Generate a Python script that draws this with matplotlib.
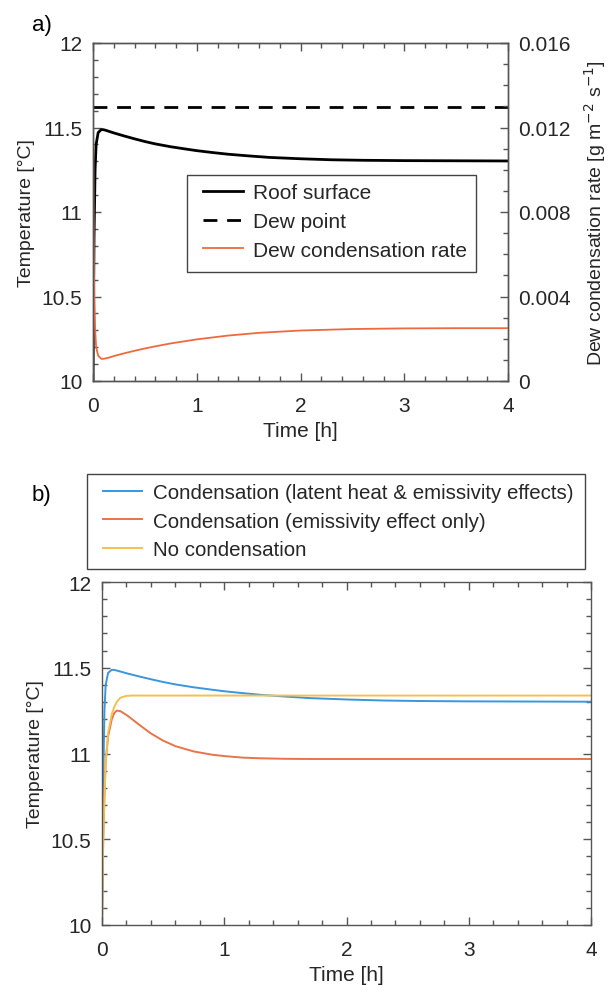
import matplotlib
matplotlib.use("Agg")
import matplotlib.pyplot as plt
from matplotlib.patches import Rectangle
from matplotlib.ticker import MultipleLocator

plt.rcParams['font.family'] = ['Liberation Sans', 'DejaVu Sans']

# Time axis [h]
time_h = [0, 0.01, 0.02, 0.03, 0.05, 0.08, 0.1, 0.12, 0.15, 0.2, 0.25, 0.3,
          0.4, 0.5, 0.6, 0.75, 0.9, 1.0, 1.15, 1.3, 1.5, 1.7, 2.0, 2.3, 2.6,
          3.0, 3.5, 4.0]

# Roof surface temperature with condensation (latent heat & emissivity) [°C]
roof_temp = [10.0, 10.85, 11.25, 11.40, 11.47, 11.488, 11.487, 11.484, 11.478,
             11.468, 11.459, 11.450, 11.433, 11.417, 11.403, 11.386, 11.372,
             11.363, 11.352, 11.342, 11.332, 11.323, 11.315, 11.309, 11.306,
             11.304, 11.303, 11.302]

# Condensation, emissivity effect only [°C]
emis_only_temp = [10.0, 10.5, 10.75, 10.95, 11.10, 11.20, 11.235, 11.25, 11.247,
                  11.225, 11.198, 11.17, 11.117, 11.075, 11.043, 11.012, 10.993,
                  10.985, 10.976, 10.972, 10.969, 10.968, 10.968, 10.968, 10.968,
                  10.968, 10.968, 10.968]

# No condensation [°C]
no_cond_temp = [10.0, 10.5, 10.75, 10.95, 11.12, 11.23, 11.27, 11.30, 11.325,
                11.336, 11.338, 11.338, 11.338, 11.338, 11.338, 11.338, 11.338,
                11.338, 11.338, 11.338, 11.338, 11.338, 11.338, 11.338, 11.338,
                11.338, 11.338, 11.338]

# Dew point [°C]
dew_point = 11.62

# Dew condensation rate [g m-2 s-1]
rate_time_h = [0, 0.005, 0.01, 0.02, 0.03, 0.05, 0.08, 0.1, 0.15, 0.2, 0.3, 0.4,
               0.5, 0.6, 0.75, 1.0, 1.3, 1.6, 2.0, 2.5, 3.0, 3.5, 4.0]
dew_rate = [0.0129, 0.008, 0.005, 0.0025, 0.0016, 0.0012, 0.00105, 0.00105,
            0.0011, 0.00118, 0.00131, 0.00143, 0.00154, 0.00164, 0.00178,
            0.00197, 0.00215, 0.00228, 0.00239, 0.00246, 0.00249, 0.0025,
            0.0025]

temp_ticks = [10, 10.5, 11, 11.5, 12]
temp_ticklabels = ["10", "10.5", "11", "11.5", "12"]
rate_ticks = [0, 0.004, 0.008, 0.012, 0.016]
rate_ticklabels = ["0", "0.004", "0.008", "0.012", "0.016"]
time_ticks = [0, 1, 2, 3, 4]

W, H = 610, 995
fig = plt.figure(figsize=(W / 100, H / 100), dpi=100)

AX_COL = "#555555"
TXT_COL = "#262626"
TICK_FS = 15
LEG_FS = 15
LAB_FS = 14


def box(x0, y0, x1, y1):
    return [x0 / W, 1 - y1 / H, (x1 - x0) / W, (y1 - y0) / H]


def style_axis(ax, right=True):
    for s in ax.spines.values():
        s.set_color(AX_COL)
        s.set_linewidth(1.0)
    ax.tick_params(which='both', direction='in', colors=AX_COL,
                   labelcolor=TXT_COL, labelsize=TICK_FS, top=True, right=right)
    ax.tick_params(which='major', length=6, width=1.0)
    ax.tick_params(which='minor', length=3.5, width=1.0)
    ax.tick_params(axis='x', pad=11)
    ax.tick_params(axis='y', pad=7.5)


def framed_legend(ax, handles, frame_px, anchor_px, fontsize):
    """Legend contents anchored at a pixel position, with a separate frame."""
    x0, y0, x1, y1 = frame_px
    ax.add_patch(Rectangle((x0 / W, 1 - y1 / H), (x1 - x0) / W, (y1 - y0) / H,
                           transform=fig.transFigure, facecolor="white",
                           edgecolor="#444444", lw=1.0, zorder=10,
                           clip_on=False))
    leg = ax.legend(handles=handles, loc="upper left",
                    bbox_to_anchor=(anchor_px[0] / W, 1 - anchor_px[1] / H),
                    bbox_transform=fig.transFigure, borderaxespad=0,
                    borderpad=0, fontsize=fontsize, frameon=False,
                    handlelength=1.92, handletextpad=0.5, labelspacing=0.47)
    leg.set_zorder(11)
    for t in leg.get_texts():
        t.set_color(TXT_COL)
    return leg


# ---------------- panel a ----------------
ax1 = fig.add_axes(box(93, 44, 508, 382))
ax1.set_xlim(0, 4)
ax1.set_ylim(10, 12)
l_roof, = ax1.plot(time_h, roof_temp, color="black", lw=2.0,
                   label="Roof surface")
l_dew, = ax1.plot([0, 4], [dew_point, dew_point], color="black", lw=2.0,
                  ls=(0, (5, 3.5)), label="Dew point")
ax1.set_xticks(time_ticks)
ax1.set_yticks(temp_ticks)
ax1.set_yticklabels(temp_ticklabels)
ax1.xaxis.set_minor_locator(MultipleLocator(0.2))
ax1.yaxis.set_minor_locator(MultipleLocator(0.1))
style_axis(ax1, right=False)
ax1.set_xlabel("Time [h]", fontsize=LEG_FS, color=TXT_COL, labelpad=4)
ax1.set_ylabel("Temperature [°C]", fontsize=LAB_FS, color=TXT_COL, labelpad=5)

ax2 = ax1.twinx()
ax2.set_ylim(0, 0.016)
l_rate, = ax2.plot(rate_time_h, dew_rate, color="#EE6A3E", lw=1.3,
                   label="Dew condensation rate")
ax2.set_yticks(rate_ticks)
ax2.set_yticklabels(rate_ticklabels)
ax2.yaxis.set_minor_locator(MultipleLocator(0.001))
style_axis(ax2)
ax2.set_ylabel("Dew condensation rate [g m$^{-2}$ s$^{-1}$]", fontsize=LAB_FS,
               color=TXT_COL, labelpad=8)

framed_legend(ax2, [l_roof, l_dew, l_rate], (187, 176, 476, 273), (203, 184),
              LEG_FS)

fig.text(32 / W, 1 - 25 / H, "a)", fontsize=16, color="black", va="center")

# ---------------- panel b ----------------
ax3 = fig.add_axes(box(102, 583, 591, 926))
ax3.set_xlim(0, 4)
ax3.set_ylim(10, 12)
b1, = ax3.plot(time_h, roof_temp, color="#3A96DD", lw=1.4,
               label="Condensation (latent heat & emissivity effects)")
b2, = ax3.plot(time_h, emis_only_temp, color="#E8744A", lw=1.4,
               label="Condensation (emissivity effect only)")
b3, = ax3.plot(time_h, no_cond_temp, color="#F5C04E", lw=1.4,
               label="No condensation")
ax3.set_xticks(time_ticks)
ax3.set_yticks(temp_ticks)
ax3.set_yticklabels(temp_ticklabels)
ax3.xaxis.set_minor_locator(MultipleLocator(0.2))
ax3.yaxis.set_minor_locator(MultipleLocator(0.1))
style_axis(ax3)
ax3.set_xlabel("Time [h]", fontsize=LEG_FS, color=TXT_COL, labelpad=4)
ax3.set_ylabel("Temperature [°C]", fontsize=LAB_FS, color=TXT_COL, labelpad=5)

framed_legend(ax3, [b1, b2, b3], (87, 475, 585, 570), (103, 484), 14.8)

fig.text(32 / W, 1 - 495 / H, "b)", fontsize=16, color="black", va="center")

fig.savefig("out.png", dpi=100)
